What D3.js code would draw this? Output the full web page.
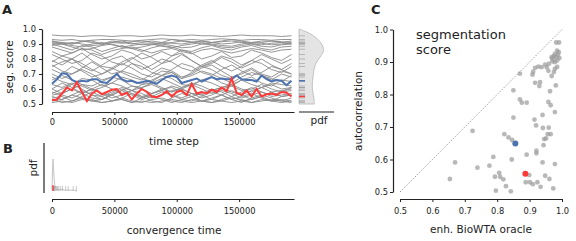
<!DOCTYPE html>
<html>
<head>
<meta charset="utf-8">
<script src="https://cdn.jsdelivr.net/npm/d3@7"></script>
<style>
  body { margin: 0; background: #fff; }
  svg text { font-family: "DejaVu Sans", sans-serif; fill: #222; }
</style>
</head>
<body>
<div id="viz"></div>
<script>
// ---- data ----
const coarseSteps = [0,8000,16000,24000,32000,40000,48000,56000,64000,72000,80000,88000,96000,104000,112000,120000,128000,136000,144000,152000,160000,168000,176000,184000,192000];
const fineSteps = [0,4000,8000,12000,16000,20000,24000,28000,32000,36000,40000,44000,48000,52000,56000,60000,64000,68000,72000,76000,80000,84000,88000,92000,96000,100000,104000,108000,112000,116000,120000,124000,128000,132000,136000,140000,144000,148000,152000,156000,160000,164000,168000,172000,176000,180000,184000,188000,192000];

const grayRuns = [
  [0.96,0.955,0.955,0.95,0.955,0.955,0.95,0.955,0.955,0.95,0.955,0.96,0.955,0.955,0.96,0.955,0.955,0.95,0.955,0.96,0.955,0.955,0.955,0.95,0.955],
  [0.93,0.925,0.93,0.92,0.925,0.93,0.93,0.925,0.92,0.925,0.93,0.935,0.93,0.925,0.93,0.925,0.93,0.935,0.93,0.925,0.93,0.93,0.925,0.93,0.93],
  [0.92,0.91,0.9,0.915,0.92,0.9,0.91,0.905,0.915,0.92,0.91,0.9,0.91,0.92,0.915,0.9,0.91,0.915,0.92,0.91,0.905,0.91,0.92,0.915,0.91],
  [0.91,0.9,0.89,0.88,0.9,0.91,0.895,0.88,0.89,0.9,0.9,0.885,0.875,0.89,0.9,0.91,0.9,0.89,0.885,0.9,0.91,0.905,0.895,0.9,0.905],
  [0.9,0.88,0.86,0.89,0.88,0.85,0.87,0.89,0.87,0.85,0.875,0.89,0.88,0.86,0.85,0.875,0.89,0.87,0.86,0.88,0.89,0.87,0.86,0.88,0.885],
  [0.89,0.9,0.91,0.9,0.89,0.895,0.91,0.92,0.905,0.895,0.9,0.91,0.905,0.9,0.91,0.92,0.91,0.9,0.905,0.915,0.9,0.895,0.905,0.91,0.9],
  [0.88,0.86,0.84,0.87,0.86,0.83,0.855,0.87,0.88,0.86,0.84,0.86,0.87,0.85,0.835,0.86,0.87,0.855,0.84,0.855,0.87,0.86,0.845,0.86,0.865],
  [0.92,0.9,0.88,0.86,0.87,0.89,0.9,0.88,0.87,0.88,0.895,0.9,0.89,0.875,0.88,0.9,0.895,0.88,0.875,0.89,0.9,0.885,0.88,0.895,0.9],
  [0.83,0.8,0.77,0.79,0.84,0.82,0.78,0.76,0.8,0.84,0.81,0.77,0.79,0.83,0.79,0.75,0.78,0.82,0.8,0.76,0.79,0.83,0.8,0.77,0.8],
  [0.79,0.76,0.8,0.84,0.79,0.75,0.74,0.78,0.81,0.77,0.73,0.77,0.82,0.84,0.79,0.75,0.77,0.81,0.78,0.74,0.77,0.8,0.76,0.73,0.77],
  [0.78,0.82,0.8,0.75,0.72,0.76,0.8,0.82,0.77,0.73,0.76,0.8,0.78,0.74,0.72,0.76,0.79,0.75,0.72,0.75,0.79,0.77,0.73,0.71,0.75],
  [0.76,0.72,0.7,0.74,0.78,0.74,0.7,0.72,0.77,0.75,0.71,0.69,0.73,0.77,0.75,0.71,0.69,0.73,0.76,0.72,0.69,0.71,0.75,0.73,0.7],
  [0.73,0.7,0.75,0.72,0.68,0.7,0.74,0.71,0.68,0.66,0.7,0.74,0.72,0.68,0.7,0.74,0.76,0.72,0.68,0.7,0.73,0.69,0.66,0.7,0.68],
  [0.7,0.67,0.7,0.73,0.7,0.66,0.68,0.72,0.7,0.67,0.65,0.69,0.71,0.67,0.69,0.72,0.7,0.67,0.64,0.68,0.71,0.69,0.67,0.65,0.69],
  [0.68,0.65,0.63,0.67,0.66,0.62,0.64,0.68,0.66,0.63,0.66,0.69,0.67,0.63,0.62,0.66,0.68,0.64,0.62,0.66,0.68,0.64,0.62,0.66,0.65],
  [0.63,0.61,0.64,0.62,0.59,0.61,0.64,0.62,0.59,0.61,0.63,0.6,0.58,0.61,0.64,0.62,0.59,0.61,0.63,0.6,0.58,0.61,0.63,0.6,0.61],
  [0.6,0.57,0.6,0.63,0.6,0.57,0.56,0.59,0.62,0.6,0.57,0.59,0.62,0.6,0.57,0.56,0.59,0.61,0.58,0.56,0.59,0.61,0.58,0.59,0.6],
  [0.58,0.56,0.54,0.57,0.6,0.57,0.54,0.56,0.59,0.57,0.54,0.56,0.59,0.6,0.57,0.54,0.56,0.59,0.57,0.54,0.56,0.58,0.55,0.56,0.57],
  [0.56,0.57,0.6,0.57,0.54,0.53,0.56,0.59,0.56,0.53,0.55,0.58,0.56,0.53,0.52,0.55,0.58,0.56,0.53,0.55,0.57,0.54,0.52,0.55,0.56],
  [0.54,0.55,0.52,0.55,0.58,0.55,0.52,0.54,0.57,0.55,0.52,0.51,0.54,0.57,0.55,0.52,0.54,0.56,0.53,0.51,0.54,0.56,0.54,0.52,0.54],
  [0.52,0.53,0.56,0.54,0.52,0.53,0.56,0.53,0.51,0.54,0.56,0.53,0.51,0.53,0.55,0.52,0.51,0.53,0.55,0.52,0.53,0.55,0.52,0.53,0.52],
  [0.51,0.52,0.51,0.53,0.52,0.51,0.52,0.53,0.51,0.52,0.51,0.52,0.53,0.52,0.51,0.52,0.53,0.52,0.51,0.52,0.51,0.53,0.52,0.51,0.52],
  [0.6,0.64,0.61,0.57,0.6,0.63,0.6,0.57,0.59,0.63,0.64,0.61,0.58,0.6,0.63,0.6,0.57,0.6,0.62,0.59,0.6,0.63,0.6,0.58,0.61],
  [0.57,0.6,0.63,0.6,0.56,0.55,0.58,0.61,0.59,0.55,0.57,0.6,0.61,0.58,0.55,0.57,0.6,0.58,0.55,0.58,0.61,0.58,0.56,0.58,0.59],
  [0.55,0.53,0.56,0.59,0.56,0.53,0.57,0.6,0.57,0.54,0.57,0.59,0.56,0.54,0.57,0.56,0.53,0.56,0.59,0.56,0.53,0.55,0.58,0.55,0.56],
  [0.66,0.69,0.66,0.63,0.62,0.65,0.68,0.66,0.62,0.61,0.64,0.67,0.64,0.61,0.63,0.66,0.64,0.61,0.63,0.66,0.63,0.61,0.64,0.63,0.62],
  [0.85,0.82,0.84,0.87,0.83,0.8,0.82,0.86,0.84,0.8,0.82,0.85,0.82,0.86,0.84,0.8,0.82,0.85,0.81,0.82,0.86,0.84,0.81,0.79,0.83],
  [0.75,0.78,0.8,0.77,0.73,0.7,0.73,0.77,0.74,0.7,0.68,0.72,0.71,0.67,0.71,0.75,0.73,0.69,0.67,0.71,0.74,0.7,0.68,0.72,0.7],
  [0.9,0.91,0.9,0.92,0.91,0.9,0.92,0.91,0.9,0.91,0.92,0.91,0.93,0.92,0.91,0.92,0.91,0.92,0.93,0.92,0.91,0.92,0.92,0.91,0.92],
  [0.53,0.51,0.52,0.54,0.53,0.51,0.52,0.54,0.52,0.51,0.53,0.54,0.52,0.51,0.53,0.52,0.51,0.52,0.54,0.53,0.51,0.52,0.53,0.52,0.51]
];

const blueRun = [0.635,0.665,0.705,0.70,0.66,0.645,0.655,0.65,0.665,0.665,0.645,0.64,0.67,0.70,0.665,0.65,0.655,0.64,0.645,0.655,0.645,0.635,0.66,0.68,0.69,0.68,0.64,0.65,0.66,0.67,0.65,0.665,0.68,0.665,0.67,0.665,0.665,0.69,0.665,0.66,0.66,0.65,0.69,0.665,0.65,0.66,0.655,0.625,0.655];
const redRun = [0.527,0.53,0.57,0.61,0.59,0.645,0.58,0.52,0.57,0.59,0.565,0.58,0.595,0.60,0.56,0.575,0.53,0.57,0.60,0.58,0.55,0.545,0.56,0.585,0.55,0.58,0.59,0.56,0.635,0.57,0.58,0.57,0.595,0.58,0.61,0.585,0.67,0.575,0.56,0.59,0.55,0.60,0.55,0.565,0.57,0.56,0.58,0.575,0.55];

// density of the final scores (side panel)
const pdfScore = [1.0,0.99,0.97,0.94,0.905,0.87,0.84,0.805,0.77,0.74,0.69,0.65,0.6,0.56,0.53,0.5];
const pdfDensity = [0,0.16,0.45,0.71,0.9,1.0,0.97,0.8,0.67,0.6,0.57,0.53,0.53,0.57,0.61,0.61];

// panel B: convergence time
const convTime = [0,400,800,1200,1600,2000,2600,3200,4000,5000,6500,8000,10000,12000,14000,16000,18000,20000];
const convPdf = [0.05,0.6,1.0,0.75,0.45,0.25,0.12,0.07,0.05,0.04,0.04,0.05,0.03,0.03,0.02,0.03,0.02,0.0];
const convRug = [200,500,700,1000,1300,1600,2000,2400,3000,3800,4600,5500,7000,8500,11000,13000,17000,19500];
const convRed = 900;

// panel C scatter
const oracleX = [0.991,0.982,0.985,0.99,0.978,0.988,0.982,0.975,0.992,0.97,0.985,0.978,0.968,0.971,0.96,0.953,0.948,0.937,0.927,0.917,0.911,0.909,0.978,0.985,0.975,0.968,0.958,0.87,0.917,0.932,0.93,0.981,0.85,0.963,0.87,0.876,0.891,0.958,0.965,0.978,0.94,
  0.85,0.915,0.724,0.92,0.941,0.959,0.956,0.965,0.951,0.945,0.822,0.835,0.846,0.943,
  0.67,0.739,0.776,0.788,0.845,0.891,0.921,0.921,0.94,0.978,0.654,0.793,0.806,0.809,0.819,0.899,0.888,0.901,0.91,0.924,0.934,0.948,0.961,0.973,0.796,0.827,0.842];
const autocorrY = [0.96,0.96,0.935,0.93,0.925,0.922,0.915,0.918,0.912,0.91,0.905,0.9,0.915,0.902,0.895,0.884,0.892,0.884,0.886,0.882,0.87,0.861,0.879,0.885,0.869,0.857,0.873,0.864,0.836,0.838,0.826,0.828,0.813,0.81,0.785,0.775,0.775,0.777,0.767,0.746,0.737,
  0.729,0.723,0.688,0.705,0.697,0.698,0.678,0.678,0.665,0.663,0.678,0.668,0.66,0.644,
  0.591,0.575,0.581,0.608,0.6,0.615,0.627,0.619,0.591,0.586,0.54,0.547,0.559,0.547,0.539,0.552,0.53,0.53,0.524,0.53,0.516,0.55,0.54,0.511,0.504,0.518,0.502];
const bluePoint = [0.856, 0.649];
const redPoint = [0.887, 0.556];

const scoreTicks = [0.5,0.6,0.7,0.8,0.9,1.0];
const timeTicks = [0,50000,100000,150000];

const COLOR = { gray: "#8a8a8a", blue: "#4c72b0", red: "#ff3838", axis: "#222" };

// ---- drawing ----
const svg = d3.select("#viz").append("svg")
    .attr("width", 576)
    .attr("height", 241);

function styleAxis(g) {
    g.selectAll(".domain").attr("stroke", COLOR.axis).attr("stroke-width", 1.2);
    g.selectAll(".tick line").attr("stroke", COLOR.axis).attr("stroke-width", 1);
    g.selectAll(".tick text").attr("font-size", "8.3px").attr("fill", "#222")
        .attr("font-family", "DejaVu Sans, sans-serif");
}

function panelLabel(txt, x, y) {
    svg.append("text").attr("x", x).attr("y", y).text(txt)
        .attr("font-size", "13px").attr("font-weight", "bold");
}

// panel A
const xA = d3.scaleLinear().domain([0, 194000]).range([52, 294]);
const yA = d3.scaleLinear().domain([0.5, 1.0]).range([104, 29]);

panelLabel("A", 2, 14);

svg.append("g").attr("transform", "translate(42,0)")
    .call(d3.axisLeft(yA).tickValues(scoreTicks).tickFormat(d3.format(".1f")).tickSize(3).tickSizeOuter(0).tickPadding(3))
    .call(styleAxis);

svg.append("g").attr("transform", "translate(0,112)")
    .call(d3.axisBottom(xA).tickValues(timeTicks).tickFormat(d3.format("d")).tickSize(3).tickSizeOuter(0).tickPadding(4))
    .call(styleAxis);

svg.append("text").attr("transform", "translate(13,67) rotate(-90)")
    .attr("text-anchor", "middle").attr("font-size", "10.5px").text("seg. score");
svg.append("text").attr("x", 174).attr("y", 145)
    .attr("text-anchor", "middle").attr("font-size", "10.5px").text("time step");

const lineCoarse = d3.line().x((d, i) => xA(coarseSteps[i])).y(d => yA(d));
const lineFine = d3.line().x((d, i) => xA(fineSteps[i])).y(d => yA(d));

svg.append("g").selectAll("path")
    .data(grayRuns)
    .enter()
    .append("path")
    .attr("d", lineCoarse)
    .attr("fill", "none")
    .attr("stroke", COLOR.gray)
    .attr("stroke-width", 1)
    .attr("stroke-opacity", 0.9);

svg.append("path").datum(blueRun).attr("d", lineFine)
    .attr("fill", "none").attr("stroke", COLOR.blue).attr("stroke-width", 2);
svg.append("path").datum(redRun).attr("d", lineFine)
    .attr("fill", "none").attr("stroke", COLOR.red).attr("stroke-width", 2);

// side density
const xPdf = d3.scaleLinear().domain([0, 1]).range([299, 324]);
const pdfArea = d3.area()
    .y((d, i) => yA(pdfScore[i]))
    .x0(xPdf(0))
    .x1(d => xPdf(d))
    .curve(d3.curveBasis);
svg.append("path").datum(pdfDensity).attr("d", pdfArea)
    .attr("fill", "#e4e4e4").attr("stroke", "#b5b5b5").attr("stroke-width", 0.8);

const finals = grayRuns.map(r => r[r.length - 1]);
svg.append("g").selectAll("line")
    .data(finals)
    .enter()
    .append("line")
    .attr("x1", 299).attr("x2", 305)
    .attr("y1", d => yA(d)).attr("y2", d => yA(d))
    .attr("stroke", "#8f8f8f").attr("stroke-opacity", 0.55).attr("stroke-width", 1);
[[blueRun, COLOR.blue], [redRun, COLOR.red]].forEach(([r, c]) => {
    const v = r[r.length - 1];
    svg.append("line").attr("x1", 299).attr("x2", 305)
        .attr("y1", yA(v)).attr("y2", yA(v))
        .attr("stroke", c).attr("stroke-width", 1.5);
});

svg.append("line").attr("x1", 299).attr("x2", 334).attr("y1", 112).attr("y2", 112)
    .attr("stroke", COLOR.axis).attr("stroke-width", 1.2);
svg.append("text").attr("x", 319).attr("y", 124)
    .attr("text-anchor", "middle").attr("font-size", "10.5px").text("pdf");

// panel B
panelLabel("B", 3, 153);
const yB = d3.scaleLinear().domain([0, 1]).range([191, 159]);

svg.append("line").attr("x1", 44).attr("x2", 44).attr("y1", 143).attr("y2", 193)
    .attr("stroke", COLOR.axis).attr("stroke-width", 1.2);
svg.append("g").attr("transform", "translate(0,199)")
    .call(d3.axisBottom(xA).tickValues(timeTicks).tickFormat(d3.format("d")).tickSize(3).tickSizeOuter(0).tickPadding(6))
    .call(styleAxis);
svg.append("text").attr("transform", "translate(37,168) rotate(-90)")
    .attr("text-anchor", "middle").attr("font-size", "10.5px").text("pdf");
svg.append("text").attr("x", 174).attr("y", 234)
    .attr("text-anchor", "middle").attr("font-size", "10.5px").text("convergence time");

svg.append("path").datum(convPdf)
    .attr("d", d3.line().x((d, i) => xA(convTime[i])).y(d => yB(d)))
    .attr("fill", "none").attr("stroke", "#c4c4c4").attr("stroke-width", 1);
svg.append("g").selectAll("line")
    .data(convRug)
    .enter()
    .append("line")
    .attr("x1", d => xA(d)).attr("x2", d => xA(d))
    .attr("y1", 186).attr("y2", 191)
    .attr("stroke", "#9a9a9a").attr("stroke-opacity", 0.5).attr("stroke-width", 1);
svg.append("line").attr("x1", xA(convRed)).attr("x2", xA(convRed))
    .attr("y1", 185).attr("y2", 191)
    .attr("stroke", COLOR.red).attr("stroke-width", 1.5).attr("stroke-opacity", 0.8);

// panel C
panelLabel("C", 371, 14);
const xC = d3.scaleLinear().domain([0.5, 1.0]).range([400, 562]);
const yC = d3.scaleLinear().domain([0.5, 1.0]).range([192, 29.5]);

svg.append("g").attr("transform", "translate(393,0)")
    .call(d3.axisLeft(yC).tickValues(scoreTicks).tickFormat(d3.format(".1f")).tickSize(3).tickSizeOuter(0).tickPadding(2))
    .call(styleAxis);
svg.append("g").attr("transform", "translate(0,199)")
    .call(d3.axisBottom(xC).tickValues(scoreTicks).tickFormat(d3.format(".1f")).tickSize(3).tickSizeOuter(0).tickPadding(6))
    .call(styleAxis);

svg.append("line")
    .attr("x1", xC(0.5)).attr("y1", yC(0.5)).attr("x2", xC(1.0)).attr("y2", yC(1.0))
    .attr("stroke", "#777").attr("stroke-width", 0.7).attr("stroke-dasharray", "1.5,1.5");

svg.append("g").selectAll("circle")
    .data(oracleX)
    .enter()
    .append("circle")
    .attr("cx", d => xC(d))
    .attr("cy", (d, i) => yC(autocorrY[i]))
    .attr("r", 2.4)
    .attr("fill", "#9a9a9a")
    .attr("fill-opacity", 0.7);
svg.append("circle").attr("cx", xC(bluePoint[0])).attr("cy", yC(bluePoint[1])).attr("r", 3)
    .attr("fill", COLOR.blue);
svg.append("circle").attr("cx", xC(redPoint[0])).attr("cy", yC(redPoint[1])).attr("r", 3)
    .attr("fill", COLOR.red);

svg.append("text").attr("transform", "translate(362,111) rotate(-90)")
    .attr("text-anchor", "middle").attr("font-size", "10.5px").text("autocorrelation");
svg.append("text").attr("x", 481).attr("y", 233)
    .attr("text-anchor", "middle").attr("font-size", "10.5px").text("enh. BioWTA oracle");
svg.append("text").attr("x", 416).attr("y", 39).attr("font-size", "13px").text("segmentation");
svg.append("text").attr("x", 416).attr("y", 54).attr("font-size", "13px").text("score");
</script>
</body>
</html>
